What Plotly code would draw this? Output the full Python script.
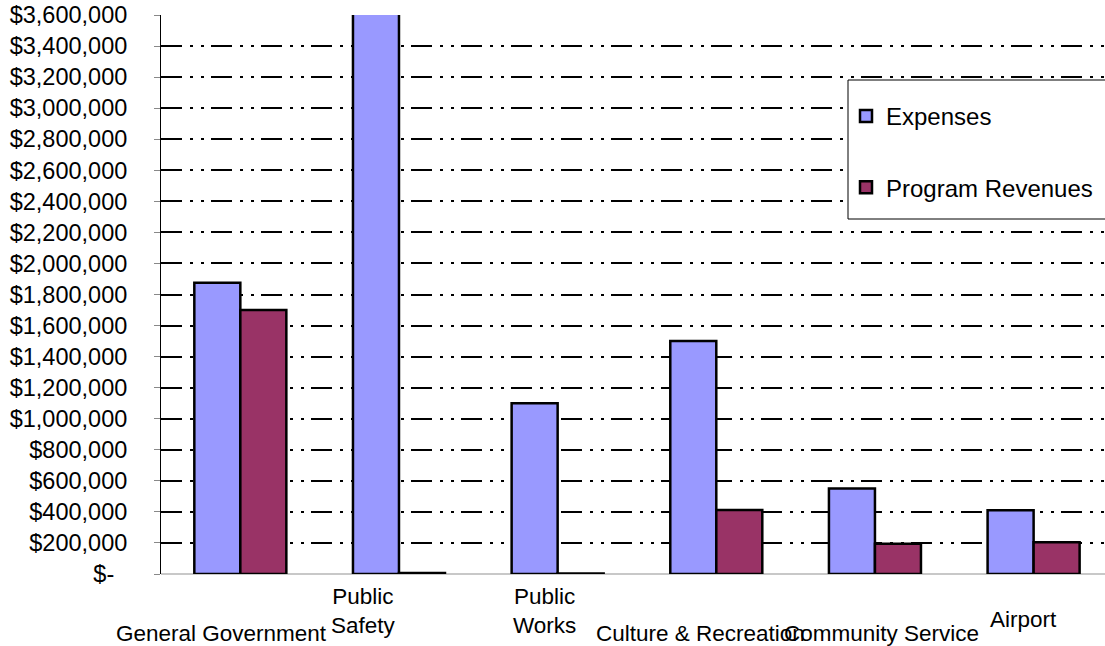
import plotly.graph_objects as go

# Governmental activities: expenses vs. program revenues by function
categories = ["General Government", "Public Safety", "Public Works",
              "Culture & Recreation", "Community Service", "Airport"]
expenses = [1875000, 4100000, 1100000, 1500000, 550000, 410000]
program_revenues = [1700000, 6000, 4000, 412000, 195000, 205000]

# Category labels as laid out under the axis (text, x shift px, y px from top)
cat_labels = ["General Government", "Public<br>Safety", "Public<br>Works",
              "Culture & Recreation", "Community Service", "Airport"]
label_xshift = [-19, -35, -13, -16, 7, -10]
label_ypix = [633, 611, 611, 633, 633, 619]

tick_vals = list(range(0, 3600001, 200000))
tick_text = ["$-\u00a0\u00a0"] + [f"${v:,}" for v in tick_vals[1:]]

FONT = "Arial, Liberation Sans, sans-serif"
W, H = 1105, 646
M_L, M_R, M_T, M_B = 161, 0, 15, 72
PW, PH = W - M_L - M_R, H - M_T - M_B


def px_x(p):
    return (p - M_L) / PW


def px_y(p):
    return (H - M_B - p) / PH


fig = go.Figure()
fig.add_trace(go.Bar(
    name="Expenses", x=categories, y=expenses,
    marker=dict(color="#9999FF", line=dict(color="black", width=2.5)),
    legendgroup="a",
))
fig.add_trace(go.Bar(
    name="Program Revenues", x=categories, y=program_revenues,
    marker=dict(color="#993366", line=dict(color="black", width=2.5)),
    legendgroup="b",
))

for i, (lab, dx, ypix) in enumerate(zip(cat_labels, label_xshift, label_ypix)):
    fig.add_annotation(
        x=categories[i], y=px_y(ypix),
        xref="x", yref="paper", text=lab, showarrow=False,
        xshift=dx, xanchor="center", yanchor="middle",
        font=dict(family=FONT, size=22.5, color="black"), align="center",
    )

# White framed box behind the legend entries
fig.add_shape(
    type="rect", xref="paper", yref="paper",
    x0=px_x(848), x1=px_x(1112), y0=px_y(219), y1=px_y(80),
    fillcolor="white", line=dict(color="black", width=1), layer="above",
)

fig.update_layout(
    width=W, height=H,
    margin=dict(l=M_L, r=M_R, t=M_T, b=M_B, pad=0),
    paper_bgcolor="white", plot_bgcolor="white",
    barmode="group", bargap=0.42, bargroupgap=0,
    font=dict(family=FONT, size=22, color="black"),
    showlegend=True,
    legend=dict(
        x=px_x(846), y=px_y(94),
        xanchor="left", yanchor="top",
        bgcolor="rgba(0,0,0,0)", borderwidth=0,
        font=dict(family=FONT, size=24, color="black"),
        traceorder="grouped", tracegroupgap=37,
    ),
    xaxis=dict(
        range=[-0.5, 5.45], showticklabels=False, ticks="",
        showgrid=False, showline=False, zeroline=False,
    ),
    yaxis=dict(
        range=[0, 3600000], tickmode="array", tickvals=tick_vals, ticktext=tick_text,
        ticks="outside", ticklen=6, tickcolor="#888888", tickwidth=1,
        ticklabelstandoff=22,
        showline=True, linecolor="black", linewidth=1,
        showgrid=True, gridcolor="black", gridwidth=2,
        griddash="21px,8px,3px,8px,3px,7px",
        zeroline=True, zerolinecolor="#c8c8c8", zerolinewidth=2,
        tickfont=dict(family=FONT, size=23.5, color="black"),
    ),
)

fig.write_html("out.html")
